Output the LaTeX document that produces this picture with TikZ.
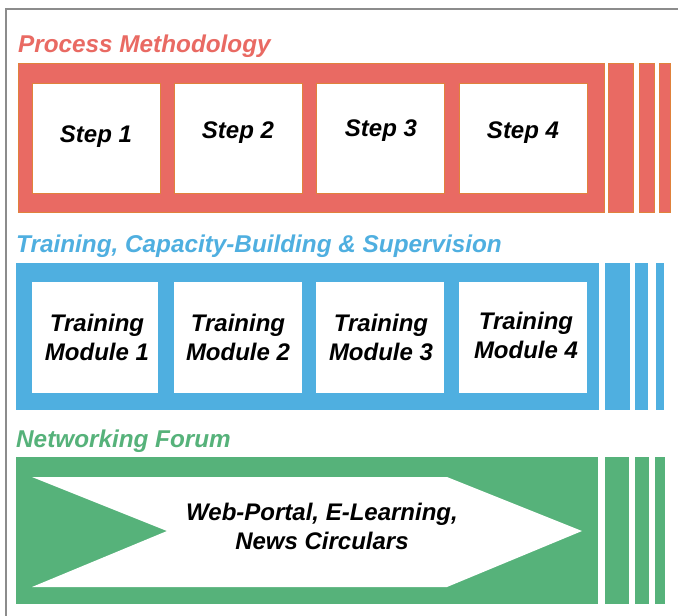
\documentclass[tikz,border=0pt]{standalone}
\usepackage{fontspec}
\setmainfont{Liberation Sans}
\usetikzlibrary{fit}
\definecolor{pmred}{HTML}{E96A63}
\definecolor{pmorange}{HTML}{E0823C}
\definecolor{tcblue}{HTML}{4FAFE0}
\definecolor{nfgreen}{HTML}{56B27A}
\definecolor{framegray}{HTML}{8C8C8C}
\begin{document}
\begin{tikzpicture}[x=1pt,y=-1pt,
  titletext/.style={font=\fontsize{24.3}{28}\selectfont\bfseries\itshape, anchor=base west, inner sep=0},
  boxtext/.style={font=\fontsize{24}{29}\selectfont\bfseries\itshape, text=black, align=center, inner sep=0},
  area/.style={inner sep=0, outer sep=0},
  redarea/.style={area, fill=pmred, draw=pmorange, line width=0.8pt},
  bluearea/.style={area, fill=tcblue},
  greenarea/.style={area, fill=nfgreen},
  whitebox/.style={area, fill=white},
  redbox/.style={whitebox, draw=pmorange, line width=0.6pt}
]
\useasboundingbox (0,0) rectangle (678,616);
\fill[white] (0,0) rectangle (678,616);
\draw[framegray, line width=2pt] (5.5,616) -- (5.5,9) -- (678,9);

% ---------- Process Methodology ----------
\node[titletext, text=pmred] (pmtitle) at (18,52) {Process Methodology};
\node[redarea, fit={(18,63) (604,212)}] (pm) {};
\node[redarea, fit={(608,63) (633,212)}] (pms1) {};
\node[redarea, fit={(639,63) (654,212)}] (pms2) {};
\node[redarea, fit={(659,63) (670,212)}] (pms3) {};
\node[redbox, fit={(32,83) (160,193)}] (s1) {};
\node[redbox, fit={(174,83) (302,193)}] (s2) {};
\node[redbox, fit={(316,83) (444,193)}] (s3) {};
\node[redbox, fit={(459,83) (587,193)}] (s4) {};
\node[boxtext] (s1t) at (96,137) {Step 1};
\node[boxtext] (s2t) at (238,133) {Step 2};
\node[boxtext] (s3t) at (381,131) {Step 3};
\node[boxtext] (s4t) at (523,133) {Step 4};

% ---------- Training ----------
\node[titletext, text=tcblue] (tctitle) at (16,252) {Training, Capacity-Building \& Supervision};
\node[bluearea, fit={(16,263) (599,410)}] (tc) {};
\node[bluearea, fit={(605,263) (630,410)}] (tcs1) {};
\node[bluearea, fit={(635,263) (648,410)}] (tcs2) {};
\node[bluearea, fit={(656,263) (664,410)}] (tcs3) {};
\node[whitebox, fit={(32,282) (158,393)}] (m1) {};
\node[whitebox, fit={(174,282) (302,393)}] (m2) {};
\node[whitebox, fit={(316,282) (444,393)}] (m3) {};
\node[whitebox, fit={(459,282) (587,393)}] (m4) {};
\node[boxtext] (m1t) at (97,337) {Training\\Module 1};
\node[boxtext] (m2t) at (238,337) {Training\\Module 2};
\node[boxtext] (m3t) at (381,337) {Training\\Module 3};
\node[boxtext] (m4t) at (526,335) {Training\\Module 4};

% ---------- Networking Forum ----------
\node[titletext, text=nfgreen] (nftitle) at (16,447) {Networking Forum};
\node[greenarea, fit={(16,457) (598,604)}] (nf) {};
\node[greenarea, fit={(605,457) (629,604)}] (nfs1) {};
\node[greenarea, fit={(635,457) (649,604)}] (nfs2) {};
\node[greenarea, fit={(655,457) (665,604)}] (nfs3) {};
\fill[white] (32,477) -- (447,477) -- (582,531) -- (447,587) -- (32,587) -- (167,531) -- cycle;
\node[boxtext] (nft) at (322,526) {Web-Portal, E-Learning,\\News Circulars};
\end{tikzpicture}
\end{document}
